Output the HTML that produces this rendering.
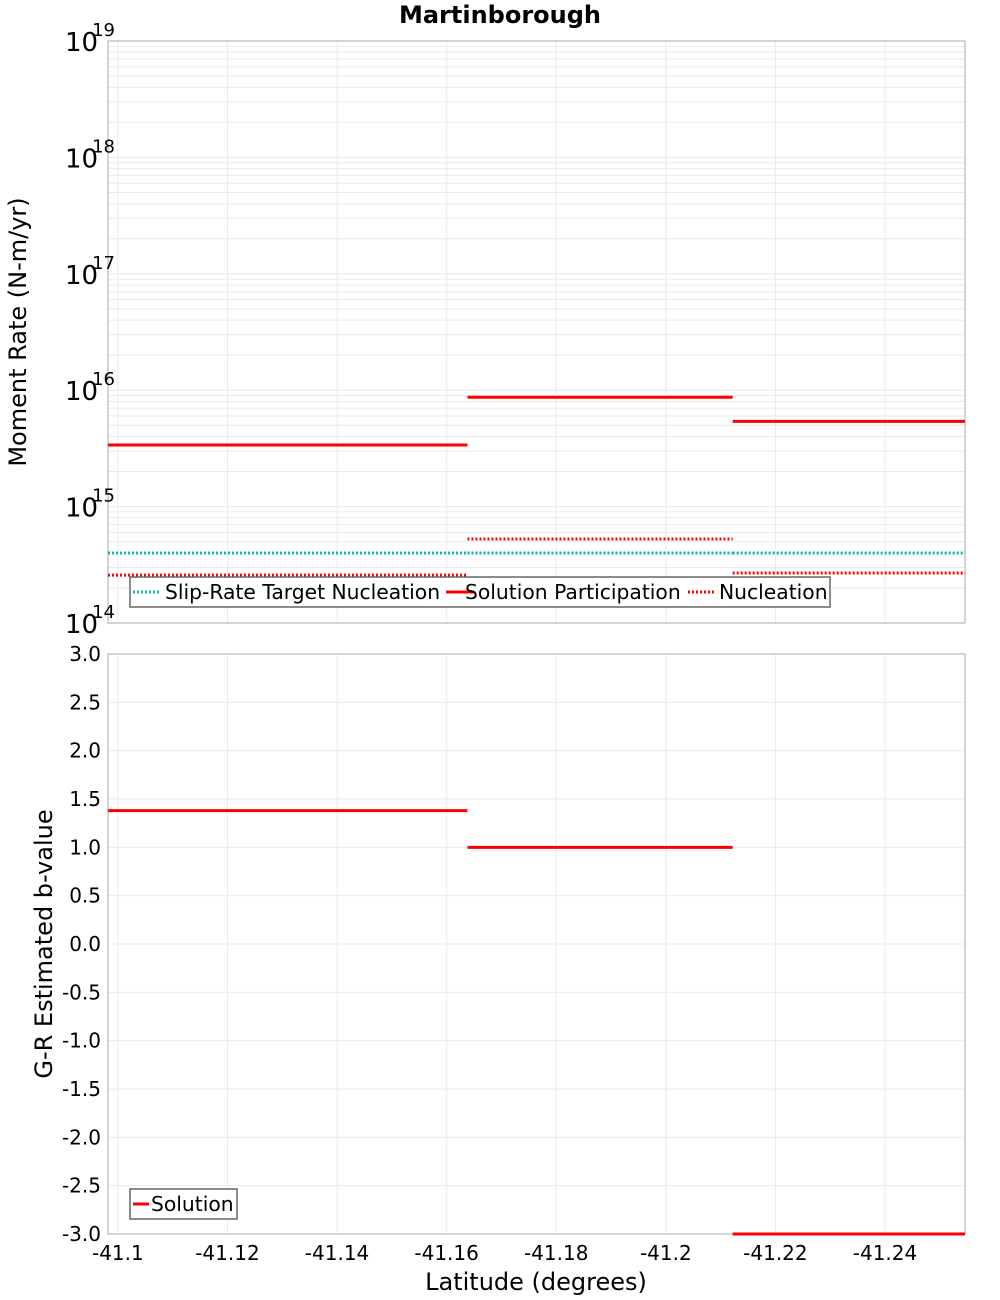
<!DOCTYPE html>
<html><head><meta charset="utf-8"><style>body{margin:0;background:#fff}svg{display:block;font-family:"DejaVu Sans","Liberation Sans",sans-serif}</style></head>
<body>
<svg id="c" width="1000" height="1300"></svg>
<script>
const segStart=[-41.0982,-41.1638,-41.2122];
const segEnd=[-41.1638,-41.2122,-41.2546];
const participation=[3.38e15,8.7e15,5.4e15];
const nucleation=[2.58e14,5.27e14,2.69e14];
const target=[3.99e14,3.99e14,3.99e14];
const bvalue=[1.38,1.0,-3.0];
const xTicks=[-41.1,-41.12,-41.14,-41.16,-41.18,-41.2,-41.22,-41.24];
const xTickLabels=["-41.1","-41.12","-41.14","-41.16","-41.18","-41.2","-41.22","-41.24"];
const bTicks=[3.0,2.5,2.0,1.5,1.0,0.5,0.0,-0.5,-1.0,-1.5,-2.0,-2.5,-3.0];
const logTicks=[14,15,16,17,18,19];

const L=108,R=965,T1=41,B1=623,T2=654,B2=1234;
const NS="http://www.w3.org/2000/svg",svg=document.getElementById('c');
const x=v=>L+(v-(-41.0982))/(-41.2546-(-41.0982))*(R-L);
const yl=v=>B1-(Math.log10(v)-14)/5*(B1-T1);
const yb=v=>T2+(3-v)/6*(B2-T2);
function el(t,a,txt){const e=document.createElementNS(NS,t);for(const k in a)e.setAttribute(k,a[k]);if(txt!==undefined)e.textContent=txt;svg.appendChild(e);return e;}

let e=el('text',{x:500,y:23,'text-anchor':'middle','font-size':24,'font-weight':'bold'},'Martinborough');



for(let d=14;d<19;d++)for(let m=1;m<10;m++){const yy=yl(m*Math.pow(10,d));
 e=el('line',{x1:L,x2:R,y1:yy,y2:yy,stroke:'#ebebeb','stroke-width':1});
 
 }
bTicks.forEach(v=>{e=el('line',{x1:L,x2:R,y1:yb(v),y2:yb(v),stroke:'#ebebeb'});
 
 });
xTicks.forEach((v,i)=>{[[T1,B1],[T2,B2]].forEach(p=>{e=el('line',{x1:x(v),x2:x(v),y1:p[0],y2:p[1],stroke:'#ebebeb'});
 
 });
 e=el('text',{x:x(v),y:1260,'text-anchor':'middle','font-size':20},xTickLabels[i]);
 
 });

e=el('rect',{x:L,y:T1,width:R-L,height:B1-T1,fill:'none',stroke:'#aaa'});


e=el('rect',{x:L,y:T2,width:R-L,height:B2-T2,fill:'none',stroke:'#aaa'});



logTicks.forEach(d=>{const yy=yl(Math.pow(10,d));
 const t=el('text',{x:65,y:yy+10,'font-size':26});t.innerHTML='10<tspan dy="-15" dx="-6" font-size="18">'+d+'</tspan>';
 
 });
bTicks.forEach(v=>{e=el('text',{x:101,y:yb(v)+7,'text-anchor':'end','font-size':20},v.toFixed(1));
 
 });

e=el('text',{x:0,y:0,transform:'translate(26,332) rotate(-90)','text-anchor':'middle','font-size':24},'Moment Rate (N-m/yr)');


e=el('text',{x:0,y:0,transform:'translate(52,944) rotate(-90)','text-anchor':'middle','font-size':24},'G-R Estimated b-value');


e=el('text',{x:536,y:1290,'text-anchor':'middle','font-size':24},'Latitude (degrees)');



for(let i=0;i<3;i++){
 e=el('line',{x1:x(segStart[i]),x2:x(segEnd[i]),y1:yl(target[i]),y2:yl(target[i]),stroke:'#17b3b3','stroke-width':3,'stroke-dasharray':'2,2'});
 
 
 e=el('line',{x1:x(segStart[i]),x2:x(segEnd[i]),y1:yl(participation[i]),y2:yl(participation[i]),stroke:'#f00','stroke-width':3});
 
 
 e=el('line',{x1:x(segStart[i]),x2:x(segEnd[i]),y1:yl(nucleation[i]),y2:yl(nucleation[i]),stroke:'#f00','stroke-width':3,'stroke-dasharray':'2,2'});
 
 
 e=el('line',{x1:x(segStart[i]),x2:x(segEnd[i]),y1:yb(bvalue[i]),y2:yb(bvalue[i]),stroke:'#f00','stroke-width':3});
 
 
}

e=el('rect',{x:130,y:577,width:700,height:30,fill:'#fff',stroke:'#666','stroke-width':1.5});


const leg=[[133,'#17b3b3',true,165,'Slip-Rate Target Nucleation'],[446,'#f00',false,465,'Solution Participation'],[688,'#f00',true,719,'Nucleation']];
leg.forEach(l=>{e=el('line',{x1:l[0],x2:l[0]+28,y1:592,y2:592,stroke:l[1],'stroke-width':3,'stroke-dasharray':l[2]?'2,2':'none'});
 
 
 e=el('text',{x:l[3],y:599,'font-size':20.3},l[4]);
 
 });
e=el('rect',{x:130,y:1189,width:107,height:30,fill:'#fff',stroke:'#666','stroke-width':1.5});


e=el('line',{x1:133,x2:149,y1:1204,y2:1204,stroke:'#f00','stroke-width':3});


e=el('text',{x:151,y:1211,'font-size':20.3},'Solution');


</script>
</body></html>
